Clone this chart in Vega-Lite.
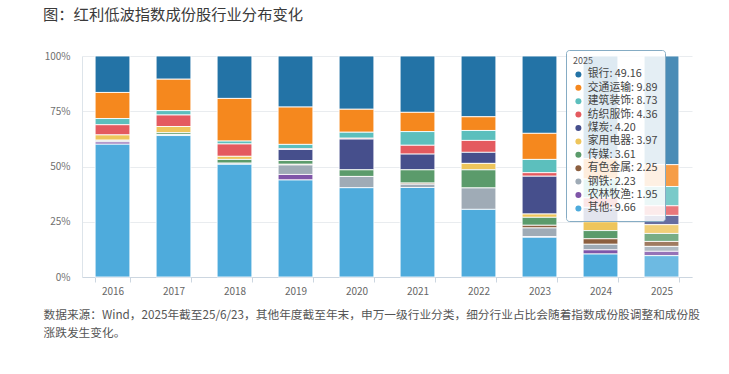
{
  "$schema": "https://vega.github.io/schema/vega-lite/v6.json",
  "autosize": "none",
  "width": 610,
  "height": 221,
  "padding": {"left": 82, "top": 56, "right": 37, "bottom": 97},
  "background": "#ffffff",
  "config": {
    "font": "Noto Sans CJK SC",
    "view": {"stroke": null}
  },
  "title": {
    "text": "图：红利低波指数成份股行业分布变化",
    "anchor": "start",
    "frame": "group",
    "dx": -39,
    "offset": 26,
    "fontSize": 15.3,
    "fontWeight": "normal",
    "color": "#3a3a3a"
  },
  "datasets": {
    "cats": [
      {"ind": "银行", "r": 11},
      {"ind": "交通运输", "r": 10},
      {"ind": "建筑装饰", "r": 9},
      {"ind": "纺织服饰", "r": 8},
      {"ind": "煤炭", "r": 7},
      {"ind": "家用电器", "r": 6},
      {"ind": "传媒", "r": 5},
      {"ind": "有色金属", "r": 4},
      {"ind": "钢铁", "r": 3},
      {"ind": "农林牧渔", "r": 2},
      {"ind": "其他", "r": 1}
    ],
    "shares": [
      {"year": "2016", "银行": 16.5, "交通运输": 11.8, "建筑装饰": 2.8, "纺织服饰": 4.6, "煤炭": 0, "家用电器": 2.4, "传媒": 0.3, "有色金属": 0, "钢铁": 0.5, "农林牧渔": 1.0, "其他": 60.1},
      {"year": "2017", "银行": 10.5, "交通运输": 14.2, "建筑装饰": 2.0, "纺织服饰": 5.2, "煤炭": 0, "家用电器": 2.8, "传媒": 0.8, "有色金属": 0, "钢铁": 0.5, "农林牧渔": 0, "其他": 64.0},
      {"year": "2018", "银行": 19.2, "交通运输": 19.3, "建筑装饰": 1.3, "纺织服饰": 5.6, "煤炭": 0, "家用电器": 1.4, "传媒": 1.7, "有色金属": 0, "钢铁": 0.5, "农林牧渔": 0, "其他": 51.0},
      {"year": "2019", "银行": 23.1, "交通运输": 16.9, "建筑装饰": 2.0, "纺织服饰": 0.3, "煤炭": 5.0, "家用电器": 0, "传媒": 1.7, "有色金属": 0.3, "钢铁": 4.3, "农林牧渔": 2.5, "其他": 43.9},
      {"year": "2020", "银行": 24.1, "交通运输": 10.4, "建筑装饰": 2.7, "纺织服饰": 0.4, "煤炭": 13.9, "家用电器": 0, "传媒": 3.0, "有色金属": 0, "钢铁": 5.1, "农林牧渔": 0, "其他": 40.4},
      {"year": "2021", "银行": 25.5, "交通运输": 8.7, "建筑装饰": 6.2, "纺织服饰": 4.0, "煤炭": 7.1, "家用电器": 0, "传媒": 6.0, "有色金属": 0.5, "钢铁": 1.5, "农林牧渔": 0, "其他": 40.5},
      {"year": "2022", "银行": 27.5, "交通运输": 6.2, "建筑装饰": 4.5, "纺织服饰": 5.4, "煤炭": 5.0, "家用电器": 2.9, "传媒": 8.2, "有色金属": 0, "钢铁": 9.7, "农林牧渔": 0, "其他": 30.6},
      {"year": "2023", "银行": 35.0, "交通运输": 11.8, "建筑装饰": 6.0, "纺织服饰": 1.6, "煤炭": 17.1, "家用电器": 1.5, "传媒": 3.6, "有色金属": 1.2, "钢铁": 3.9, "农林牧渔": 0.3, "其他": 18.0},
      {"year": "2024", "银行": 46.5, "交通运输": 9.2, "建筑装饰": 8.5, "纺织服饰": 4.3, "煤炭": 6.5, "家用电器": 4.0, "传媒": 3.7, "有色金属": 2.5, "钢铁": 2.5, "农林牧渔": 1.9, "其他": 10.4},
      {"year": "2025", "银行": 49.16, "交通运输": 9.89, "建筑装饰": 8.73, "纺织服饰": 4.36, "煤炭": 4.20, "家用电器": 3.97, "传媒": 3.61, "有色金属": 2.25, "钢铁": 2.23, "农林牧渔": 1.95, "其他": 9.66}
    ]
  },
  "data": {"name": "shares"},
  "transform": [
    {"fold": ["银行", "交通运输", "建筑装饰", "纺织服饰", "煤炭", "家用电器", "传媒", "有色金属", "钢铁", "农林牧渔", "其他"], "as": ["ind", "v"]},
    {"filter": "datum.v > 0"},
    {"lookup": "ind", "from": {"data": {"name": "cats"}, "key": "ind", "fields": ["r"]}}
  ],
  "encoding": {
    "x": {
      "field": "year",
      "type": "ordinal",
      "scale": {"paddingInner": 0.43, "paddingOuter": 0.215},
      "axis": {
        "labelAngle": 0,
        "labelFontSize": 10,
        "labelColor": "#666666",
        "labelPadding": 4,
        "tickBand": "extent",
        "tickSize": 5,
        "tickColor": "#ccd6e0",
        "domainColor": "#ccd6e0",
        "title": ["数据来源：Wind，2025年截至25/6/23，其他年度截至年末，申万一级行业分类，细分行业占比会随着指数成份股调整和成份股", "涨跌发生变化。"],
        "titleFontSize": 11.7,
        "titleFontWeight": "normal",
        "titleColor": "#555555",
        "titleAnchor": "start",
        "titleAlign": "left",
        "titleBaseline": "top",
        "titleX": -39,
        "titleY": 32,
        "titleLineHeight": 18
      }
    },
    "y": {
      "field": "v",
      "type": "quantitative",
      "stack": "normalize",
      "scale": {"domain": [0, 1]},
      "axis": {
        "values": [0, 0.25, 0.5, 0.75, 1],
        "format": ".0%",
        "title": null,
        "labelFontSize": 10,
        "labelColor": "#707070",
        "labelPadding": 12,
        "ticks": false,
        "domainColor": "#dde4ea",
        "gridColor": "#e9ecef",
        "grid": true
      }
    },
    "order": {"field": "r", "type": "quantitative", "sort": "ascending"}
  },
  "layer": [
    {
      "mark": {"type": "bar", "stroke": "#ffffff", "strokeWidth": 1, "strokeOpacity": 0.85},
      "encoding": {
        "color": {
          "field": "ind",
          "type": "nominal",
          "scale": {
            "domain": ["银行", "交通运输", "建筑装饰", "纺织服饰", "煤炭", "家用电器", "传媒", "有色金属", "钢铁", "农林牧渔", "其他"],
            "range": ["#2373a6", "#f5881e", "#5cbfbd", "#e45a5f", "#464f8c", "#eec55b", "#5b9b6b", "#8c5f3f", "#9fabb6", "#7f55a8", "#4eabdc"]
          },
          "legend": {
            "orient": "none",
            "legendX": 484,
            "legendY": -6,
            "title": "2025",
            "titleFontSize": 9,
            "titleFontWeight": "normal",
            "titleColor": "#555555",
            "titlePadding": 3,
            "labelFontSize": 10.8,
            "labelColor": "#444444",
            "labelExpr": "datum.label + ': ' + {'银行':'49.16','交通运输':'9.89','建筑装饰':'8.73','纺织服饰':'4.36','煤炭':'4.20','家用电器':'3.97','传媒':'3.61','有色金属':'2.25','钢铁':'2.23','农林牧渔':'1.95','其他':'9.66'}[datum.label] + '\u00a0\u00a0\u00a0\u00a0\u00a0\u00a0'",
            "symbolType": "circle",
            "symbolSize": 36,
            "symbolStrokeWidth": 0,
            "rowPadding": 1.4,
            "padding": 7,
            "fillColor": "rgba(255,255,255,0.85)",
            "strokeColor": "#86acc4",
            "cornerRadius": 3
          }
        }
      }
    },
    {
      "transform": [{"filter": "datum.year == '2025'"}],
      "mark": {"type": "bar", "color": "#ffffff", "opacity": 0.18},
      "encoding": {}
    }
  ]
}
